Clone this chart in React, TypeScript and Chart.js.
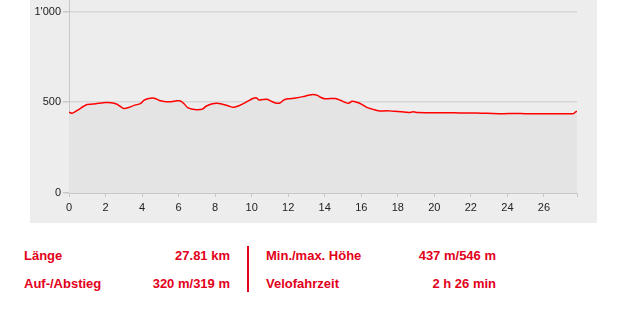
import React, { useEffect, useRef } from "react";
import { Chart, registerables } from "chart.js";

Chart.register(...registerables);

const distanceKm = [
  0, 0.1, 0.2, 0.5, 0.8, 1.0, 1.3, 1.6, 2.0, 2.3, 2.6, 2.8, 3.0, 3.3, 3.6, 3.9, 4.1, 4.3, 4.6, 4.8,
  5.0, 5.3, 5.6, 5.9, 6.1, 6.3, 6.5, 6.8, 7.0, 7.3, 7.5, 7.8, 8.1, 8.4, 8.7, 9.0, 9.3, 9.6, 9.9,
  10.1, 10.25, 10.4, 10.6, 10.85, 11.1, 11.35, 11.55, 11.75, 12.0, 12.4, 12.8, 13.1, 13.35, 13.6,
  13.8, 14.0, 14.3, 14.6, 14.85, 15.1, 15.3, 15.5, 15.75, 16.0, 16.3, 16.6, 17.0, 17.4, 17.8, 18.2,
  18.6, 18.85, 19.1, 19.6, 20.2, 20.8, 21.4, 22.0, 22.6, 23.2, 23.8, 24.4, 25.0, 25.6, 26.2, 26.8,
  27.3, 27.6, 27.72, 27.81,
];

const elevationM = [
  445, 441, 440, 458, 478, 488, 490, 494, 498, 497, 490, 478, 466, 472, 484, 492, 510, 519, 524, 517,
  508, 503, 503, 508, 507, 492, 470, 461, 459, 462, 478, 490, 494, 489, 481, 472, 481, 495, 512,
  522, 525, 513, 515, 516, 504, 495, 496, 512, 519, 523, 531, 538, 543, 538,
  526, 519, 520, 520, 511, 500, 494, 505, 500, 490, 472, 462, 452, 453, 450, 447,
  444, 447, 443, 442, 442, 442, 441, 441, 440, 438, 437, 438, 437, 437, 437, 436,
  437, 437, 445, 451,
];

const yTicks = [0, 500, 1000];
const xTicks = [0, 2, 4, 6, 8, 10, 12, 14, 16, 18, 20, 22, 24, 26];
const totalKm = 27.81;

const statsLeft = [
  ["Länge", "27.81 km"],
  ["Auf-/Abstieg", "320 m/319 m"],
];
const statsRight = [
  ["Min./max. Höhe", "437 m/546 m"],
  ["Velofahrzeit", "2 h 26 min"],
];

const RED = "#e2001a";

export default function App() {
  const canvasRef = useRef<HTMLCanvasElement | null>(null);

  useEffect(() => {
    if (!canvasRef.current) return;
    const chart = new Chart(canvasRef.current, {
      type: "line",
      data: {
        datasets: [
          {
            data: distanceKm.map((x, i) => ({ x, y: elevationM[i] })),
            borderColor: "#ff0000",
            borderWidth: 1.5,
            backgroundColor: "#e4e4e4",
            fill: "origin",
            pointRadius: 0,
            tension: 0.3,
          },
        ],
      },
      options: {
        animation: false,
        responsive: false,
        maintainAspectRatio: false,
        layout: { padding: { left: 0, right: 20, top: 0, bottom: 0 } },
        plugins: { legend: { display: false }, tooltip: { enabled: false } },
        scales: {
          x: {
            type: "linear",
            min: 0,
            max: totalKm,
            afterBuildTicks: (scale: any) => {
              scale.ticks = [...xTicks, totalKm].map((v) => ({ value: v }));
            },
            afterFit: (scale: any) => {
              scale.height = 30;
            },
            ticks: {
              autoSkip: false,
              maxRotation: 0,
              color: "#222",
              font: { family: "Liberation Sans", size: 11 },
              padding: 4,
              callback: (v: any) => (xTicks.includes(Number(v)) ? String(v) : ""),
            },
            grid: {
              drawOnChartArea: false,
              drawTicks: true,
              tickLength: 4,
              tickColor: "#c8c8c8",
            },
            border: { color: "#c8c8c8", width: 1 },
          },
          y: {
            type: "linear",
            min: 0,
            max: 1060,
            afterBuildTicks: (scale: any) => {
              scale.ticks = yTicks.map((v) => ({ value: v }));
            },
            afterFit: (scale: any) => {
              scale.width = 39;
            },
            ticks: {
              color: "#222",
              font: { family: "Liberation Sans", size: 11 },
              padding: 2,
              callback: (v: any) => (Number(v) >= 1000 ? "1'000" : String(v)),
            },
            grid: {
              color: (ctx: any) => (ctx.tick && ctx.tick.value === 0 ? "rgba(0,0,0,0)" : "#d8d8d8"),
              lineWidth: 1.5,
              drawTicks: true,
              tickLength: 6,
              tickColor: "#c8c8c8",
            },
            border: { color: "#c8c8c8", width: 1 },
          },
        },
      },
    });
    return () => chart.destroy();
  }, []);

  const textStyle: React.CSSProperties = {
    position: "absolute",
    color: RED,
    fontFamily: "'Liberation Sans', Arial, sans-serif",
    fontWeight: "bold",
    fontSize: 13,
    lineHeight: "16px",
    whiteSpace: "nowrap",
  };

  const rowTops = [248, 276];

  return (
    <div style={{ position: "absolute", left: 0, top: 0, width: 629, height: 316, background: "#fff" }}>
      <div
        style={{
          position: "absolute",
          left: 30,
          top: 0,
          width: 567,
          height: 223,
          background: "#ededed",
          overflow: "hidden",
        }}
      >
        <canvas
          ref={canvasRef}
          width={567}
          height={231}
          style={{ display: "block", position: "absolute", left: 0, top: -8, width: 567, height: 231 }}
        />
      </div>
      {statsLeft.map(([label, value], i) => (
        <React.Fragment key={"l" + i}>
          <div style={{ ...textStyle, left: 24, top: rowTops[i] }}>{label}</div>
          <div style={{ ...textStyle, right: 629 - 230, top: rowTops[i], textAlign: "right" }}>{value}</div>
        </React.Fragment>
      ))}
      <div style={{ position: "absolute", left: 247, top: 246, width: 2, height: 46, background: RED }} />
      {statsRight.map(([label, value], i) => (
        <React.Fragment key={"r" + i}>
          <div style={{ ...textStyle, left: 266, top: rowTops[i] }}>{label}</div>
          <div style={{ ...textStyle, right: 629 - 496, top: rowTops[i], textAlign: "right" }}>{value}</div>
        </React.Fragment>
      ))}
    </div>
  );
}
